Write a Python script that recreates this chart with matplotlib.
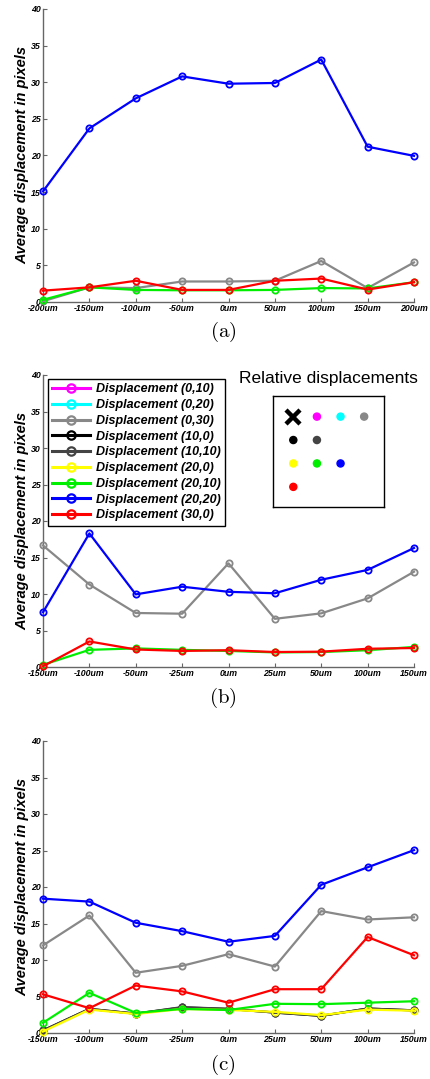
import matplotlib.pyplot as plt
from matplotlib.lines import Line2D

plt.rcParams['font.family'] = ['Liberation Sans', 'DejaVu Sans']
plt.rcParams['mathtext.fontset'] = 'cm'

# series: name, (row, col) offset, colour
names = ["Displacement (0,10)", "Displacement (0,20)", "Displacement (0,30)",
         "Displacement (10,0)", "Displacement (10,10)", "Displacement (20,0)",
         "Displacement (20,10)", "Displacement (20,20)", "Displacement (30,0)"]
offsets = [(0, 10), (0, 20), (0, 30), (10, 0), (10, 10), (20, 0), (20, 10), (20, 20), (30, 0)]
colors = ["#ff00ff", "#00ffff", "#888888", "#000000", "#444444",
          "#ffff00", "#00ee00", "#0000ff", "#ff0000"]

labels_a = ["-200um", "-150um", "-100um", "-50um", "0um", "50um", "100um", "150um", "200um"]
labels_bc = ["-150um", "-100um", "-50um", "-25um", "0um", "25um", "50um", "100um", "150um"]

# panel (a)
a_gray = [0.1, 2.0, 1.9, 2.8, 2.8, 2.9, 5.6, 1.9, 5.4]
a_green = [0.3, 2.0, 1.65, 1.6, 1.6, 1.65, 1.9, 1.85, 2.7]
a_blue = [15.1, 23.7, 27.8, 30.8, 29.8, 29.9, 33.1, 21.2, 19.95]
a_red = [1.55, 2.0, 2.9, 1.65, 1.65, 2.9, 3.2, 1.7, 2.7]

# panel (b)
b_gray = [16.65, 11.3, 7.4, 7.3, 14.2, 6.6, 7.35, 9.4, 13.05]
b_green = [0.3, 2.35, 2.55, 2.35, 2.2, 2.0, 2.05, 2.3, 2.75]
b_blue = [7.5, 18.3, 9.95, 11.0, 10.3, 10.1, 11.95, 13.3, 16.3]
b_red = [0.1, 3.5, 2.4, 2.2, 2.3, 2.05, 2.1, 2.5, 2.6]

# panel (c)
c_gray = [12.0, 16.1, 8.25, 9.2, 10.8, 9.1, 16.7, 15.55, 15.85]
c_black = [0.35, 3.3, 2.65, 3.5, 3.3, 2.8, 2.35, 3.35, 3.1]
c_darkgray = [0.35, 3.3, 2.65, 3.55, 3.3, 2.8, 2.35, 3.35, 3.1]
c_yellow = [0.2, 3.2, 2.6, 3.3, 3.15, 2.9, 2.45, 3.2, 3.05]
c_green = [1.4, 5.5, 2.75, 3.3, 3.15, 4.0, 3.95, 4.15, 4.35]
c_blue = [18.4, 18.0, 15.1, 13.95, 12.5, 13.3, 20.3, 22.7, 25.05]
c_red = [5.3, 3.4, 6.5, 5.7, 4.15, 6.0, 6.0, 13.15, 10.65]

panels = [
    ("a", labels_a, [(2, a_gray), (6, a_green), (7, a_blue), (8, a_red)]),
    ("b", labels_bc, [(2, b_gray), (6, b_green), (7, b_blue), (8, b_red)]),
    ("c", labels_bc, [(2, c_gray), (3, c_black), (4, c_darkgray), (5, c_yellow),
                      (6, c_green), (7, c_blue), (8, c_red)]),
]

W, H = 430, 1079
fig = plt.figure(figsize=(W / 100, H / 100), dpi=100)

# axes boxes in pixels: top, bottom ; tag centre y
boxes = [(9, 302, 332), (375, 667, 698), (741, 1033, 1065)]
left_px, right_px = 43, 414

axes = []
for (tag, labels, series), (top, bot, tag_y) in zip(panels, boxes):
    ax = fig.add_axes([left_px / W, 1 - bot / H, (right_px - left_px) / W, (bot - top) / H])
    x = list(range(len(labels)))
    for idx, vals in series:
        ax.plot(x, vals, color=colors[idx], lw=1.6, marker="o", ms=4.5,
                mfc="none", mew=1.3, clip_on=False, zorder=3)
    ax.set_xlim(0, len(labels) - 1)
    ax.set_ylim(0, 40)
    ax.set_xticks(x)
    ax.set_xticklabels(labels)
    ax.set_yticks(range(0, 41, 5))
    for s in ["top", "right"]:
        ax.spines[s].set_visible(False)
    for s in ["left", "bottom"]:
        ax.spines[s].set_color("#666666")
        ax.spines[s].set_linewidth(1.0)
    ax.tick_params(direction="in", length=3, width=0.8, color="#666666",
                   labelsize=6.3, pad=1.5)
    for lab in ax.get_xticklabels() + ax.get_yticklabels():
        lab.set_fontstyle("italic")
        lab.set_fontweight("bold")
    ax.set_ylabel("Average displacement in pixels", fontsize=10.5,
                  style="italic", weight="bold", va="center")
    ax.yaxis.set_label_coords(-0.057, 0.5)
    fig.text(223 / W, 1 - tag_y / H, r"$\mathrm{(%s)}$" % tag, fontsize=15,
             ha="center", va="center")
    axes.append(ax)

# legend in panel (b)
handles = [Line2D([], [], color=c, lw=2.2, marker="o", ms=6, mfc="none", mew=1.6)
           for c in colors]
leg = axes[1].legend(handles, names, loc="upper left",
                     bbox_to_anchor=(0.0135, 0.986), borderaxespad=0,
                     fancybox=False, edgecolor="black", framealpha=1,
                     handlelength=3.0, handletextpad=0.5, labelspacing=0.3,
                     borderpad=0.35, prop={"size": 9.0, "style": "italic", "weight": "bold"})
leg.get_frame().set_linewidth(1.0)

# relative displacement inset
ins = fig.add_axes([273 / W, 1 - 507 / H, 111 / W, 111 / H])
rows = [r for r, c in offsets]
cols = [c for r, c in offsets]
ins.scatter(cols, rows, s=26, c=colors, zorder=3)
ins.plot([0], [0], marker="x", ms=10.5, mew=3.2, color="black")
ins.set_xlim(-8.6, 38.4)
ins.set_ylim(38.6, -8.8)
ins.set_xticks([])
ins.set_yticks([])
for s in ins.spines.values():
    s.set_linewidth(1.0)
    s.set_color("black")
ins.text(0.5, 1.155, "Relative displacements", transform=ins.transAxes,
         ha="center", va="center", fontsize=12.5)

fig.savefig("out.png", dpi=100)
